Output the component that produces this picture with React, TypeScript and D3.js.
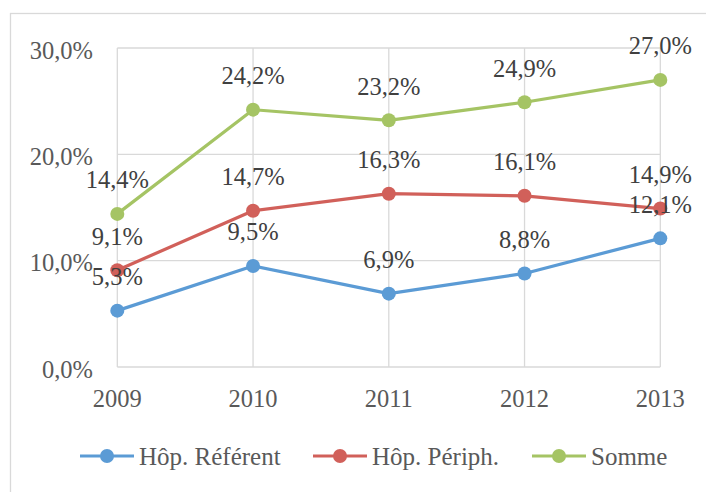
import React from "react";
import * as d3 from "d3";

const years = ["2009", "2010", "2011", "2012", "2013"];
const referent = [5.3, 9.5, 6.9, 8.8, 12.1];
const peripherie = [9.1, 14.7, 16.3, 16.1, 14.9];
const somme = [14.4, 24.2, 23.2, 24.9, 27.0];
const yTicks = [0, 10, 20, 30];
const seriesNames = ["Hôp. Référent", "Hôp. Périph.", "Somme"];
const seriesColors = ["#5B9BD5", "#D1605A", "#A5C464"];

const fmt = (v: number) => v.toFixed(1).replace(".", ",") + "%";

export default function App() {
  const W = 706, H = 492;
  const x = d3.scalePoint<string>().domain(years).range([117.3, 660.3]);
  const y = d3.scaleLinear().domain([0, 30]).range([367, 48]);
  const series = [referent, peripherie, somme];
  const line = d3.line<number>().x((_, i) => x(years[i])!).y((d) => y(d));
  const serif = "'Liberation Serif', 'Times New Roman', serif";
  const legendX = [80, 313, 532];
  const legendY = 456;

  return (
    <svg width={W} height={H} style={{ position: "absolute", left: 0, top: 0, background: "#fff" }}>
      <rect x={10.5} y={13.5} width={W} height={H} fill="#fff" stroke="#D9D9D9" strokeWidth={1.3} />
      {yTicks.map((t) => (
        <line key={"h" + t} x1={x(years[0])} x2={x(years[years.length - 1])} y1={y(t)} y2={y(t)} stroke="#D9D9D9" strokeWidth={1.3} />
      ))}
      {years.map((yr) => (
        <line key={"v" + yr} x1={x(yr)} x2={x(yr)} y1={y(30)} y2={y(0)} stroke="#D9D9D9" strokeWidth={1.3} />
      ))}
      {yTicks.map((t) => (
        <text key={"yt" + t} x={93} y={y(t) + 10.5} textAnchor="end" fontFamily={serif} fontSize={24.5} fill="#595959">
          {fmt(t)}
        </text>
      ))}
      {years.map((yr) => (
        <text key={"xt" + yr} x={x(yr)} y={406.5} textAnchor="middle" fontFamily={serif} fontSize={24.5} fill="#595959">
          {yr}
        </text>
      ))}
      {series.map((s, si) => (
        <g key={"s" + si}>
          <path d={line(s)!} fill="none" stroke={seriesColors[si]} strokeWidth={3.2} strokeLinejoin="round" />
          {s.map((v, i) => (
            <circle key={i} cx={x(years[i])} cy={y(v)} r={7} fill={seriesColors[si]} />
          ))}
        </g>
      ))}
      {series.map((s, si) => (
        <g key={"l" + si}>
          {s.map((v, i) => (
            <text key={i} x={x(years[i])} y={y(v) - 25.5} textAnchor="middle" fontFamily={serif} fontSize={24.5} fill="#404040">
              {fmt(v)}
            </text>
          ))}
        </g>
      ))}
      {seriesNames.map((n, i) => (
        <g key={"lg" + i}>
          <line x1={legendX[i]} x2={legendX[i] + 54} y1={legendY} y2={legendY} stroke={seriesColors[i]} strokeWidth={3.2} />
          <circle cx={legendX[i] + 27} cy={legendY} r={7} fill={seriesColors[i]} />
          <text x={legendX[i] + 59} y={legendY + 9} fontFamily={serif} fontSize={25} fill="#595959">
            {n}
          </text>
        </g>
      ))}
    </svg>
  );
}
